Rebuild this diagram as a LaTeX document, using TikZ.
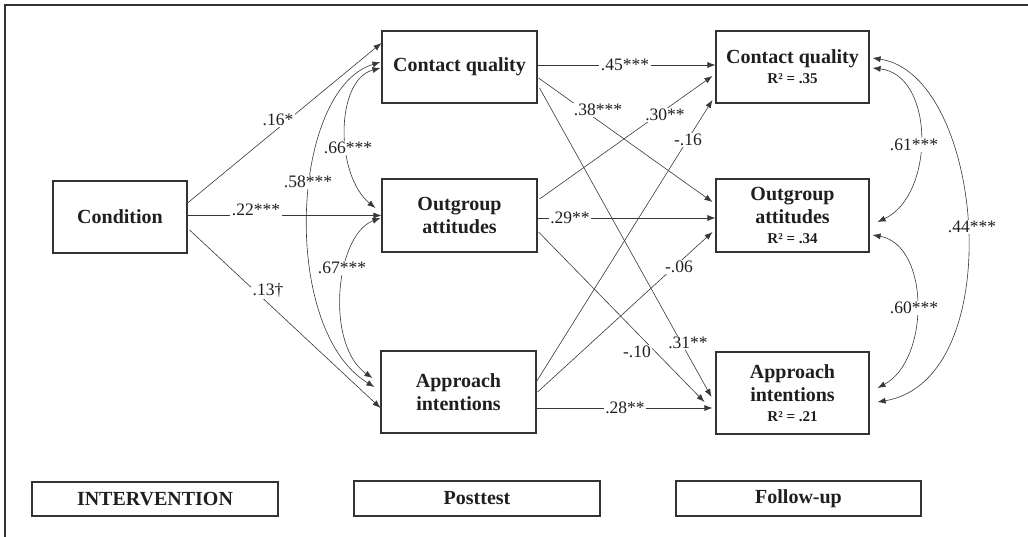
\documentclass[tikz,border=0pt]{standalone}
\usepackage{fontspec}
\setmainfont{Liberation Serif}
\usetikzlibrary{arrows.meta,calc}
\definecolor{boxc}{gray}{0.2}
\definecolor{linec}{gray}{0.22}
\definecolor{txt}{gray}{0.12}
\newcommand\boxfont{\fontsize{20}{23}\selectfont\bfseries}
\newcommand\lblfont{\fontsize{17.5}{20}\selectfont}
\newcommand\rfont{\fontsize{15}{17}\selectfont\bfseries}
\tikzset{
  box/.style={draw=boxc, line width=1.1pt, inner sep=0pt, font=\boxfont, align=center, text=txt},
  lbl/.style={fill=white, inner sep=1.5pt, font=\lblfont, text=txt},
  conn/.style={draw=linec, line width=0.6pt, -{Latex[length=8pt,width=6pt]}},
  cov/.style={draw=linec, line width=0.6pt, {Latex[length=8pt,width=6pt]}-{Latex[length=8pt,width=6pt]}},
}
\begin{document}
\begin{tikzpicture}[x=1pt,y=-1pt]
\useasboundingbox (0,0) rectangle (1028,537);
\draw[boxc, line width=1.2pt] (1028,5) -- (5,5) -- (5,537);

% nodes
\node[box, minimum width=134pt, minimum height=72pt] (cond) at (120,217) {Condition};
\node[box, minimum width=155pt, minimum height=72pt] (cq1) at (459.5,67) {Contact quality};
\node[box, minimum width=155pt, minimum height=73pt] (oa1) at (459.5,215.5) {Outgroup\\attitudes};
\node[box, minimum width=155pt, minimum height=82pt] (ai1) at (458.5,392) {Approach\\intentions};
\node[box, minimum width=153pt, minimum height=72pt] (cq2) at (792.5,67) {Contact quality\\[-3pt]\rfont R² = .35};
\node[box, minimum width=153pt, minimum height=73pt] (oa2) at (792.5,215.5) {Outgroup\\attitudes\\[-3pt]\rfont R² = .34};
\node[box, minimum width=153pt, minimum height=82pt] (ai2) at (792.5,393) {Approach\\intentions\\[-3pt]\rfont R² = .21};
\node[box, minimum width=246pt, minimum height=34pt] (labI) at (155,499) {INTERVENTION};
\node[box, minimum width=246pt, minimum height=35pt] (labP) at (477,498.5) {Posttest};
\node[box, minimum width=245pt, minimum height=35pt] (labF) at (798.5,498.5) {Follow-up};

% condition paths
\draw[conn] ($(cond.east)+(0,-14)$) -- ($(cq1.west)+(0,-24)$);
\draw[conn] (cond.east |- oa1.west) -- (oa1.west);
\draw[conn] ($(cond.east)+(2,13)$) -- ($(ai1.west)+(0,16)$);

% posttest covariances
\draw[cov] ($(cq1.west)+(-1,1)$) .. controls (335,80) and (335,175) .. ($(oa1.west)+(-6,-7.5)$);
\draw[cov] ($(cq1.west)+(-1,-5)$) .. controls (290,90) and (280,330) .. ($(ai1.west)+(-6,-5)$);
\draw[cov] ($(oa1.west)+(-1,2.5)$) .. controls (335,235) and (325,345) .. ($(ai1.west)+(-8,-14)$);

% cross-lagged paths
\draw[conn] ($(cq1.east)+(0,-2)$) -- ($(cq2.west)+(0,-2)$);
\draw[conn] ($(cq1.east)+(1,11)$) -- ($(oa2.west)+(-3,-13.5)$);
\draw[conn] ($(cq1.east)+(2,21)$) -- ($(ai2.west)+(-4,4)$);
\draw[conn] ($(oa1.east)+(2,-16.5)$) -- ($(cq2.west)+(-3,9)$);
\draw[conn] ($(oa1.east)+(0,2.5)$) -- ($(oa2.west)+(0,2.5)$);
\draw[conn] ($(oa1.east)+(1,16.5)$) -- ($(ai2.west)+(-11,9)$);
\draw[conn] ($(ai1.east)+(-1,-9)$) -- ($(cq2.west)+(-3,33)$);
\draw[conn] ($(ai1.east)+(1,0)$) -- ($(oa2.west)+(-3,16.5)$);
\draw[conn] ($(ai1.east)+(0,16)$) -- ($(ai2.west)+(-3,15)$);

% follow-up covariances
\draw[cov] ($(cq2.east)+(3,1)$) .. controls (935,75) and (935,195) .. ($(oa2.east)+(8,6.5)$);
\draw[cov] ($(cq2.east)+(3,-9)$) .. controls (985,75) and (1010,380) .. ($(ai2.east)+(8,9)$);
\draw[cov] ($(oa2.east)+(3,19.5)$) .. controls (930,245) and (930,360) .. ($(ai2.east)+(8,-5)$);

% labels
\node[lbl] (l16) at (278,120) {.16*};
\node[lbl] (l22) at (256,210) {.22***};
\node[lbl] (l13) at (268,290) {.13†};
\node[lbl] (l66) at (348,148) {.66***};
\node[lbl] (l58) at (308,182) {.58***};
\node[lbl] (l67) at (342,268) {.67***};
\node[lbl] (l45) at (625,65) {.45***};
\node[lbl] (l38) at (598,110) {.38***};
\node[lbl] (l30) at (665,115) {.30**};
\node[lbl] (l16n) at (688,140) {-.16};
\node[lbl] (l29) at (570,218) {.29**};
\node[lbl] (l06) at (679,267) {-.06};
\node[lbl] (l10) at (637,352) {-.10};
\node[lbl] (l31) at (688,343) {.31**};
\node[lbl] (l28) at (625,408) {.28**};
\node[lbl] (l61) at (914,145) {.61***};
\node[lbl] (l44) at (972,227) {.44***};
\node[lbl] (l60) at (914,308) {.60***};
\end{tikzpicture}
\end{document}
